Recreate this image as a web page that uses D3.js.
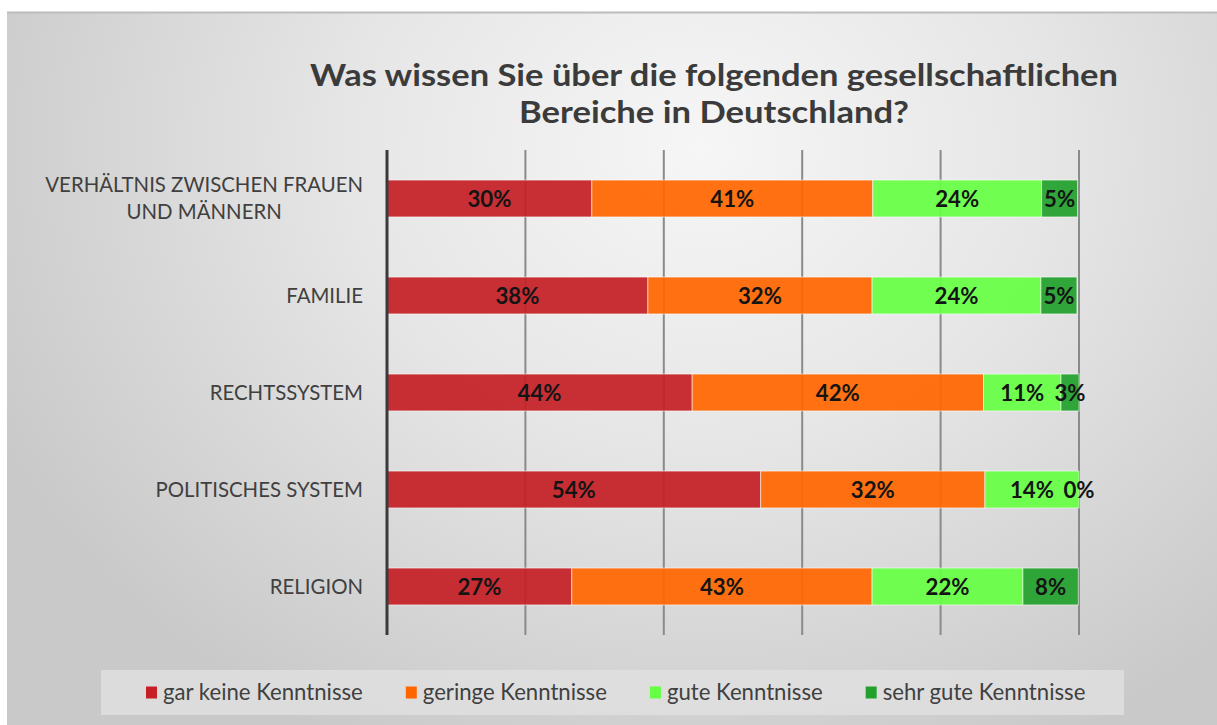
<!DOCTYPE html>
<html>
<head>
<meta charset="utf-8">
<script src="https://cdn.jsdelivr.net/npm/d3@7"></script>
<style>
  html, body { margin: 0; padding: 0; background: #ffffff; }
  svg { display: block; }
</style>
</head>
<body>
<svg id="chart" width="1217" height="725"></svg>
<script>
// ---- data ----
const titleLines = ["Was wissen Sie über die folgenden gesellschaftlichen", "Bereiche in Deutschland?"];
const categories = [
  ["VERHÄLTNIS ZWISCHEN FRAUEN", "UND MÄNNERN"],
  ["FAMILIE"],
  ["RECHTSSYSTEM"],
  ["POLITISCHES SYSTEM"],
  ["RELIGION"]
];
const seriesNames = ["gar keine Kenntnisse", "geringe Kenntnisse", "gute Kenntnisse", "sehr gute Kenntnisse"];
const garKeine   = [29.6, 37.7, 44.1, 54.0, 26.7];
const geringe    = [40.6, 32.4, 42.1, 32.4, 43.4];
const gute       = [24.4, 24.4, 11.2, 13.6, 21.8];
const sehrGute   = [5.2, 5.2, 2.6, 0.0, 8.0];
const xTicks = [0, 20, 40, 60, 80, 100];
const colors = ["#c42026", "#ff6600", "#66ff44", "#22a02c"];

const series = [garKeine, geringe, gute, sehrGute];

// ---- setup ----
const svg = d3.select("#chart");
const W = 1217, H = 725;
const plot = { left: 387, right: 1079, top: 150, bottom: 635 };

// background
const defs = svg.append("defs");
const rg = defs.append("radialGradient").attr("id", "bg")
  .attr("gradientUnits", "userSpaceOnUse")
  .attr("cx", 700).attr("cy", 150).attr("r", 780)
  .attr("gradientTransform", "translate(700,150) scale(1,0.85) translate(-700,-150)");
rg.append("stop").attr("offset", "0%").attr("stop-color", "#f6f6f6");
rg.append("stop").attr("offset", "45%").attr("stop-color", "#e6e6e6");
rg.append("stop").attr("offset", "100%").attr("stop-color", "#c9c9c9");
svg.append("rect").attr("x", 0).attr("y", 0).attr("width", W).attr("height", H).attr("fill", "#ffffff");
svg.append("rect").attr("x", 7).attr("y", 12).attr("width", W - 7).attr("height", H - 12).attr("fill", "url(#bg)");
svg.append("line").attr("x1", 7).attr("x2", W).attr("y1", 12.5).attr("y2", 12.5)
  .attr("stroke", "#bcbcbc").attr("stroke-width", 2);

// helper to fit text to a target width
function fitSize(text, family, weight, target) {
  const t = svg.append("text").attr("font-family", family).attr("font-weight", weight)
    .attr("font-size", 100).text(text);
  const w = t.node().getComputedTextLength();
  t.remove();
  return 100 * target / w;
}
const FONT = "Lato, 'Open Sans', sans-serif";

// ---- title ----
const titleWidths = [808, 390];
svg.append("g").selectAll("text").data(titleLines).join("text")
  .attr("x", 714)
  .attr("y", (d, i) => 86 + i * 37)
  .attr("text-anchor", "middle")
  .attr("font-family", FONT).attr("font-weight", 700)
  .attr("font-size", 31)
  .attr("textLength", (d, i) => titleWidths[i])
  .attr("lengthAdjust", "spacingAndGlyphs")
  .attr("fill", "#3b3b3b")
  .text(d => d);

// ---- scales ----
const x = d3.scaleLinear().domain([0, 100]).range([plot.left, plot.right]);
const y = d3.scaleBand().domain(d3.range(categories.length))
  .range([plot.top, plot.bottom]).paddingInner(0.62).paddingOuter(0.31);

// gridlines
svg.append("g").selectAll("line").data(xTicks.slice(1)).join("line")
  .attr("x1", d => x(d)).attr("x2", d => x(d))
  .attr("y1", plot.top).attr("y2", plot.bottom)
  .attr("stroke", "#8a8a8a").attr("stroke-width", 2);

// stacked data
const rows = categories.map((c, i) => series.map(s => s[i]));
const stackData = rows.map((r, i) => {
  const obj = { i };
  r.forEach((v, k) => obj["s" + k] = v);
  return obj;
});
const keys = seriesNames.map((n, k) => "s" + k);
const stacked = d3.stack().keys(keys)(stackData);

const barG = svg.append("g");
stacked.forEach((layer, k) => {
  barG.append("g").selectAll("rect").data(layer).join("rect")
    .attr("x", d => x(d[0]))
    .attr("y", d => y(d.data.i))
    .attr("width", d => Math.max(0, x(d[1]) - x(d[0])))
    .attr("height", y.bandwidth())
    .attr("fill", colors[k])
    .attr("fill-opacity", 0.93)
    .attr("stroke", "#ffffff").attr("stroke-opacity", 0.55).attr("stroke-width", 1);
});

// value labels
const vSize = fitSize("30%", FONT, 700, 44);
stacked.forEach((layer, k) => {
  barG.append("g").selectAll("text").data(layer).join("text")
    .attr("x", d => (x(d[0]) + x(d[1])) / 2)
    .attr("y", d => y(d.data.i) + y.bandwidth() / 2)
    .attr("dy", "0.36em")
    .attr("text-anchor", "middle")
    .attr("font-family", FONT).attr("font-weight", 700)
    .attr("font-size", vSize)
    .attr("fill", "#141414")
    .text(d => Math.round(d[1] - d[0]) + "%");
});

// axis line (left)
svg.append("line").attr("x1", x(0)).attr("x2", x(0))
  .attr("y1", plot.top).attr("y2", plot.bottom)
  .attr("stroke", "#3a3a3a").attr("stroke-width", 3);

// category labels
const cSize = fitSize(categories[0][0], FONT, 400, 318);
const labelRight = 363;
const lineH = 27;
const catG = svg.append("g");
categories.forEach((lines, i) => {
  const widths = lines.map(l => {
    const t = svg.append("text").attr("font-family", FONT).attr("font-size", cSize).text(l);
    const w = t.node().getComputedTextLength(); t.remove(); return w;
  });
  const maxW = d3.max(widths);
  const cx = labelRight - maxW / 2;
  const cy = y(i) + y.bandwidth() / 2;
  lines.forEach((l, j) => {
    catG.append("text")
      .attr("x", cx)
      .attr("y", cy + (j - (lines.length - 1) / 2) * lineH)
      .attr("dy", "0.36em")
      .attr("text-anchor", "middle")
      .attr("font-family", FONT).attr("font-size", cSize)
      .attr("fill", "#404040")
      .text(l);
  });
});

// legend
const box = { x: 101, y: 670, w: 1023, h: 45 };
svg.append("rect").attr("x", box.x).attr("y", box.y).attr("width", box.w).attr("height", box.h)
  .attr("fill", "#e2e2e2").attr("fill-opacity", 0.75);
const lSize = fitSize(seriesNames[0], FONT, 400, 200);
const sw = 11, swGap = 6, itemGap = 43;
const lw = seriesNames.map(n => {
  const t = svg.append("text").attr("font-family", FONT).attr("font-size", lSize).text(n);
  const w = t.node().getComputedTextLength(); t.remove(); return w;
});
let cur = 146;
const cyL = box.y + box.h / 2;
const legG = svg.append("g");
seriesNames.forEach((n, k) => {
  legG.append("rect").attr("x", cur).attr("y", cyL - 6).attr("width", sw).attr("height", 12)
    .attr("fill", colors[k]);
  legG.append("text").attr("x", cur + sw + swGap).attr("y", cyL).attr("dy", "0.35em")
    .attr("font-family", FONT).attr("font-size", lSize).attr("fill", "#404040").text(n);
  cur += sw + swGap + lw[k] + itemGap;
});
</script>
</body>
</html>
